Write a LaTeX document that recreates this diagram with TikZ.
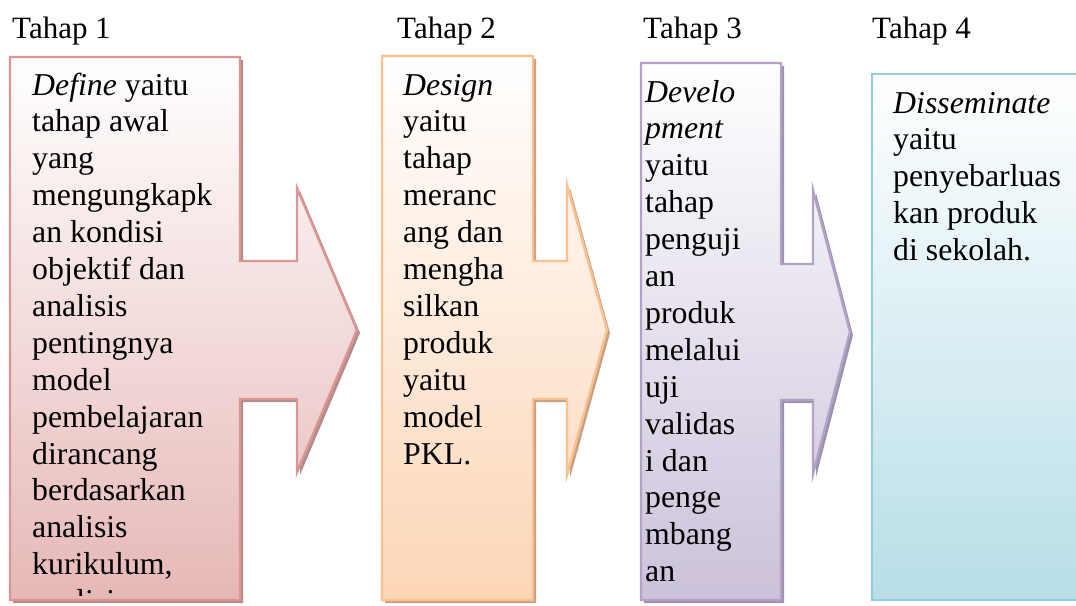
\documentclass[tikz,border=0pt]{standalone}
\usepackage{fontspec}
\setmainfont{Liberation Serif}
\definecolor{redline}{HTML}{D99694}
\definecolor{redfill}{HTML}{E6B8B7}
\definecolor{redshadow}{HTML}{B38C8B}
\definecolor{orangeline}{HTML}{FAC090}
\definecolor{orangefill}{HTML}{FCD5B5}
\definecolor{orangeshadow}{HTML}{C9A182}
\definecolor{violetline}{HTML}{B3A2C7}
\definecolor{violetfill}{HTML}{CCC1DA}
\definecolor{violetshadow}{HTML}{9D92AC}
\definecolor{blueline}{HTML}{93CDDD}
\definecolor{bluefill}{HTML}{B7DEE8}
% outline of a right-arrow callout:
% #1 left, #2 top, #3 right, #4 bottom, #5 head base x, #6 tip x, #7 tip y,
% #8 half height of the shaft, #9 half height of the head
\newcommand\calloutpath[9]{(#1,#2) -- (#3,#2) -- (#3,{#7-#8}) -- (#5,{#7-#8})
  -- (#5,{#7-#9}) -- (#6,#7) -- (#5,{#7+#9}) -- (#5,{#7+#8}) -- (#3,{#7+#8})
  -- (#3,#4) -- (#1,#4) -- cycle}
\begin{document}
\begin{tikzpicture}[x=1pt,y=-1pt,
  stagelabel/.style={anchor=base west, inner sep=0pt, font=\fontsize{31}{36}\selectfont},
  stagetext/.style={anchor=base west, inner sep=0pt, font=\fontsize{31.8}{36.9}\selectfont},
  outline/.style={line width=2.4pt, line join=miter}]
\useasboundingbox (0,0) rectangle (1076,605);
\clip (0,0) rectangle (1076,605);

% stage headings
\node[stagelabel] (h1) at (12,38) {Tahap 1};
\node[stagelabel] (h2) at (397,38) {Tahap 2};
\node[stagelabel] (h3) at (643,38) {Tahap 3};
\node[stagelabel] (h4) at (872,38) {Tahap 4};

% stage 1: Define
\fill[redshadow, shift={(3,3)}] \calloutpath{10}{57}{240}{600}{297}{357}{330}{69}{142};
\draw[outline, draw=redline, top color=white, bottom color=redfill]
  \calloutpath{10}{57}{240}{600}{297}{357}{330}{69}{142};
\begin{scope}
  % the text overflows the box and is cut at its lower edge
  \clip (11,58) rectangle (239,595);
  \node[stagetext] (t1) at (32,95) {\vtop{\hbox{\emph{Define} yaitu}\hbox{tahap awal}\hbox{yang}%
    \hbox{mengungkapk}\hbox{an kondisi}\hbox{objektif dan}\hbox{analisis}\hbox{pentingnya}%
    \hbox{model}\hbox{pembelajaran}\hbox{dirancang}\hbox{berdasarkan}\hbox{analisis}%
    \hbox{kurikulum,}\hbox{analisis}}};
\end{scope}

% stage 2: Design
\fill[orangeshadow, shift={(3,3)}] \calloutpath{382}{56}{533}{600}{567}{607}{330}{69}{145};
\draw[outline, draw=orangeline, top color=white, bottom color=orangefill]
  \calloutpath{382}{56}{533}{600}{567}{607}{330}{69}{145};
\node[stagetext] (t2) at (403,95) {\vtop{\hbox{\emph{Design}}\hbox{yaitu}\hbox{tahap}%
  \hbox{meranc}\hbox{ang dan}\hbox{mengha}\hbox{silkan}\hbox{produk}\hbox{yaitu}%
  \hbox{model}\hbox{PKL.}}};

% stage 3: Development
\fill[violetshadow, shift={(3,3)}] \calloutpath{641}{63}{781}{600}{813}{850}{332}{68}{142};
\draw[outline, draw=violetline, top color=white, bottom color=violetfill]
  \calloutpath{641}{63}{781}{600}{813}{850}{332}{68}{142};
\node[stagetext] (t3) at (645,102) {\vtop{\hbox{\emph{Develo}}\hbox{\emph{pment}}\hbox{yaitu}%
  \hbox{tahap}\hbox{penguji}\hbox{an}\hbox{produk}\hbox{melalui}\hbox{uji}\hbox{validas}%
  \hbox{i dan}\hbox{penge}\hbox{mbang}\hbox{an}}};

% stage 4: Disseminate
\draw[outline, draw=blueline, top color=white, bottom color=bluefill]
  (872,74) rectangle (1090,600);
\node[stagetext] (t4) at (893,113) {\vtop{\hbox{\emph{Disseminate}}\hbox{yaitu}%
  \hbox{penyebarluas}\hbox{kan produk}\hbox{di sekolah.}}};
\end{tikzpicture}
\end{document}
